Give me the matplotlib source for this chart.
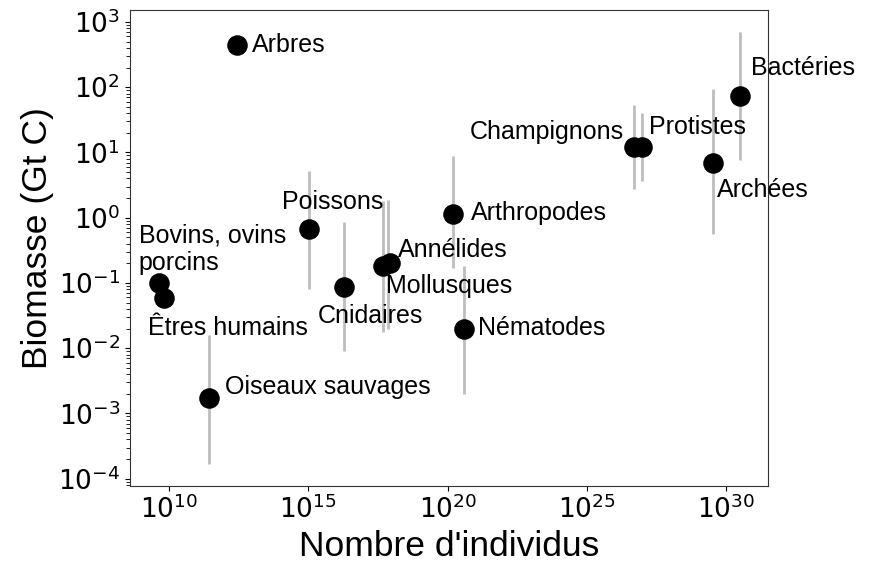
import matplotlib
matplotlib.use("Agg")
import matplotlib.pyplot as plt
from matplotlib.ticker import LogLocator, NullFormatter
import numpy as np

# Biomasse par groupe (Gt C) en fonction du nombre d'individus
groupes = ["Arbres", "Poissons", "Bovins, ovins\nporcins", "Êtres humains",
           "Oiseaux sauvages", "Cnidaires", "Mollusques", "Annélides",
           "Arthropodes", "Nématodes", "Champignons", "Protistes",
           "Archées", "Bactéries"]
individus = [2.8e12, 1.1e15, 4.4e9, 6.6e9, 2.7e11, 2.0e16, 5.0e17, 8.9e17,
             1.5e20, 3.8e20, 5.0e26, 9.5e26, 3.4e29, 3.2e30]
biomasse = [450, 0.66, 0.1, 0.058, 0.0017, 0.087, 0.18, 0.2,
            1.15, 0.02, 12, 12, 7, 74]
biomasse_min = [np.nan, 0.08, np.nan, np.nan, 1.7e-4, 0.009, 0.018, 0.02,
                0.17, 0.002, 2.8, 3.7, 0.56, 7.7]
biomasse_max = [np.nan, 5.2, np.nan, np.nan, 0.016, 0.87, 1.8, 1.9,
                8.7, 0.18, 54, 40, 95, 700]
# x des barres d'erreur (légèrement décalées pour mollusques/annélides)
x_barres = [np.nan, 1.1e15, np.nan, np.nan, 2.7e11, 2.0e16, 5.0e17, 7.5e17,
            1.5e20, 3.8e20, 5.0e26, 9.5e26, 3.4e29, 3.2e30]

# position des étiquettes (pixels) et alignement
decalages = [(15, 0), (23, 27), (-20, 34), (-16, -30), (16, 11), (-27, -29),
             (3, -20), (8, 13), (18, 1), (14, 1), (-10, 15), (7, 20),
             (4, -27), (11, 28)]
alignements = ["left", "center", "left", "left", "left", "left", "left",
               "left", "left", "left", "right", "left", "left", "left"]

plt.rcParams["font.family"] = ["Liberation Sans", "DejaVu Sans"]
plt.rcParams["mathtext.fontset"] = "dejavusans"

fig = plt.figure(figsize=(8.71, 5.63), dpi=100)
ax = fig.add_axes([0.149, 0.137, 0.733, 0.846])

ax.vlines(x_barres, biomasse_min, biomasse_max, colors="#bdbdbd", linewidth=2, zorder=1)
ax.scatter(individus, biomasse, s=190, c="black", zorder=2)

for nom, x, y, d, ha in zip(groupes, individus, biomasse, decalages, alignements):
    ax.annotate(nom, (x, y), xytext=d, textcoords="offset pixels",
                ha=ha, va="center", fontsize=18, multialignment="left")

ax.set_xscale("log")
ax.set_yscale("log")
ax.set_xlim(10**8.6, 10**31.5)
ax.set_ylim(10**-4.11, 10**3.19)
ax.set_xticks([1e10, 1e15, 1e20, 1e25, 1e30])
ax.set_yticks([1e-4, 1e-3, 1e-2, 1e-1, 1e0, 1e1, 1e2, 1e3])
ax.yaxis.set_minor_locator(LogLocator(base=10, subs=np.arange(2, 10), numticks=100))
ax.yaxis.set_minor_formatter(NullFormatter())
ax.xaxis.set_minor_locator(plt.NullLocator())
ax.tick_params(labelsize=19)
ax.tick_params(axis="y", which="minor", length=3)
for lbl in ax.get_xticklabels() + ax.get_yticklabels():
    lbl.set_fontfamily("DejaVu Sans")
ax.set_xlabel("Nombre d'individus", fontsize=25.5)
ax.set_ylabel("Biomasse (Gt C)", fontsize=25.5)
ax.yaxis.set_label_coords(-0.118, 0.52)
for s in ax.spines.values():
    s.set_color("#333333")

fig.savefig("out.png", dpi=100)
